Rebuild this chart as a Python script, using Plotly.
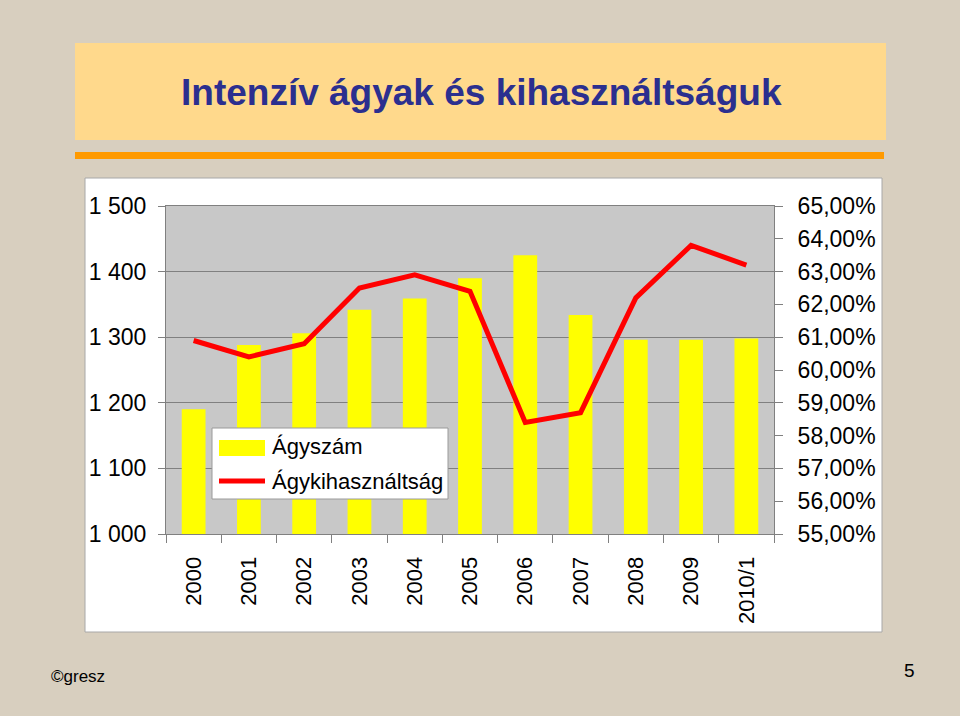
import plotly.graph_objects as go

years = ["2000", "2001", "2002", "2003", "2004", "2005", "2006", "2007", "2008", "2009", "2010/1"]
agyszam = [1190, 1288, 1306, 1342, 1359, 1390, 1425, 1334, 1296, 1296, 1298]
kihasznaltsag = [0.609, 0.604, 0.608, 0.625, 0.629, 0.624, 0.584, 0.587, 0.622, 0.638, 0.632]

W, H = 960, 716
FONT = "Liberation Sans, Arial, sans-serif"


def px(x):
    return x / W


def py(y):
    return 1 - y / H


fig = go.Figure()
fig.add_trace(go.Bar(x=years, y=agyszam, name="Ágyszám", marker=dict(color="#FFFF00", line=dict(width=0)),
                     yaxis="y"))
fig.add_trace(go.Scatter(x=years, y=kihasznaltsag, name="Ágykihasználtság", mode="lines",
                         line=dict(color="#FF0000", width=5), yaxis="y2"))

shapes = [
    # white chart panel
    dict(type="rect", xref="paper", yref="paper", x0=px(85), x1=px(882), y0=py(632), y1=py(178),
         fillcolor="white", line=dict(color="#A8A8A8", width=1), layer="below"),
    # gray plot area
    dict(type="rect", xref="x domain", yref="y domain", x0=0, x1=1, y0=0, y1=1,
         fillcolor="#C8C8C8", line=dict(width=0), layer="below"),
    # title box
    dict(type="rect", xref="paper", yref="paper", x0=px(75), x1=px(886), y0=py(140), y1=py(43),
         fillcolor="#FFD98C", line=dict(width=0), layer="below"),
    # orange rule
    dict(type="rect", xref="paper", yref="paper", x0=px(75), x1=px(884), y0=py(159), y1=py(152),
         fillcolor="#FF9A00", line=dict(width=0), layer="below"),
    # legend box
    dict(type="rect", xref="paper", yref="paper", x0=px(212), x1=px(448), y0=py(499), y1=py(428),
         fillcolor="white", line=dict(color="#9A9A9A", width=1), layer="above"),
    dict(type="rect", xref="paper", yref="paper", x0=px(219), x1=px(265), y0=py(456), y1=py(440),
         fillcolor="#FFFF00", line=dict(width=0), layer="above"),
    dict(type="line", xref="paper", yref="paper", x0=px(219), x1=px(265), y0=py(481), y1=py(481),
         line=dict(color="#FF0000", width=5), layer="above"),
]

annotations = [
    dict(text="<b>Intenzív ágyak és kihasználtságuk</b>", xref="paper", yref="paper",
         x=px(481), y=py(92), xanchor="center", yanchor="middle", showarrow=False,
         font=dict(family=FONT, size=37, color="#2B2F8F")),
    dict(text="Ágyszám", xref="paper", yref="paper", x=px(270), y=py(446), xanchor="left",
         yanchor="middle", showarrow=False, font=dict(family=FONT, size=22, color="black")),
    dict(text="Ágykihasználtság", xref="paper", yref="paper", x=px(270), y=py(481), xanchor="left",
         yanchor="middle", showarrow=False, font=dict(family=FONT, size=22, color="black")),
    dict(text="©gresz", xref="paper", yref="paper", x=px(49), y=py(676), xanchor="left",
         yanchor="middle", showarrow=False, font=dict(family=FONT, size=17, color="black")),
    dict(text="5", xref="paper", yref="paper", x=px(917), y=py(670), xanchor="right",
         yanchor="middle", showarrow=False, font=dict(family=FONT, size=19, color="black")),
]

fig.update_layout(
    width=W, height=H,
    margin=dict(l=0, r=0, t=0, b=0, pad=0, autoexpand=False),
    paper_bgcolor="#D8CFBF",
    plot_bgcolor="#C8C8C8",
    separators=", ",
    showlegend=False,
    bargap=0.57,
    font=dict(family=FONT, size=23, color="black"),
    shapes=shapes,
    annotations=annotations,
    xaxis=dict(
        domain=[px(166), px(774)],
        type="category",
        tickangle=-90,
        tickfont=dict(size=22, color="black"),
        ticks="outside", tickson="boundaries", ticklen=8, tickcolor="#808080",
        showline=True, linecolor="#808080", linewidth=1, mirror=True,
        showgrid=False,
        ticklabelstandoff=13,
        automargin=False,
    ),
    yaxis=dict(
        domain=[py(534), py(206)],
        range=[1000, 1500], dtick=100, tickformat=",d",
        ticks="outside", ticklen=7, tickcolor="#808080",
        showline=True, linecolor="#808080", linewidth=1,
        showgrid=True, gridcolor="#808080", gridwidth=1,
        zeroline=False,
        tickfont=dict(size=23, color="black"),
        ticklabelstandoff=7,
        automargin=False,
    ),
    yaxis2=dict(
        overlaying="y", side="right",
        range=[0.55, 0.65], dtick=0.01, tickformat=".2%",
        ticks="outside", ticklen=8, tickcolor="#808080",
        showline=True, linecolor="#808080", linewidth=1,
        showgrid=False, zeroline=False,
        tickfont=dict(size=23, color="black"),
        ticklabelstandoff=10,
        automargin=False,
    ),
)

fig.write_html("out.html")
